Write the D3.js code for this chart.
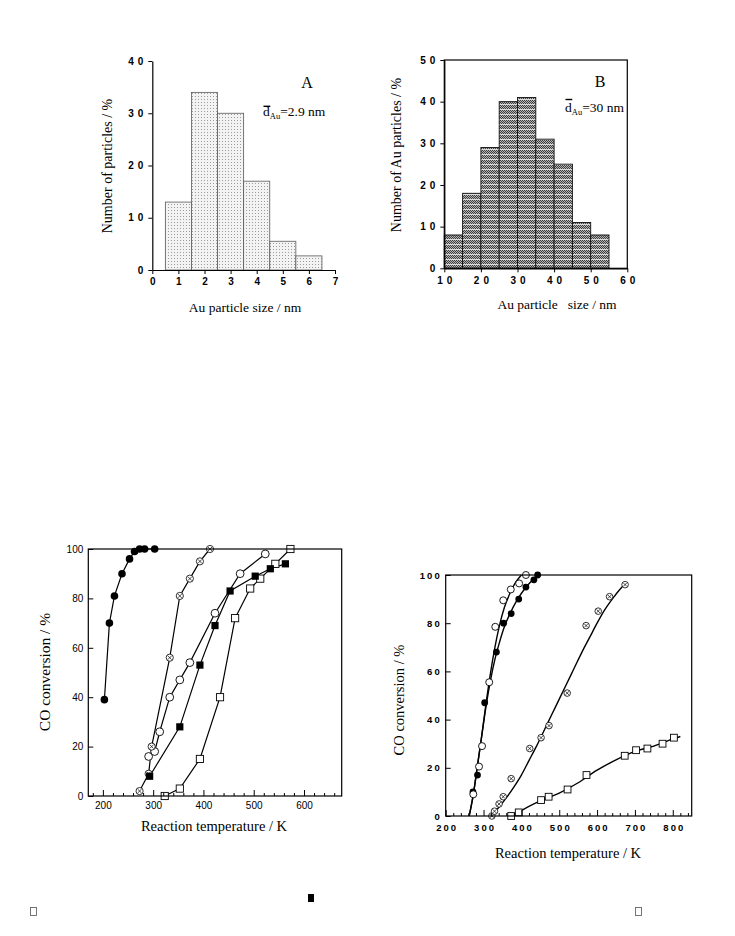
<!DOCTYPE html>
<html><head><meta charset="utf-8">
<script src="https://cdn.jsdelivr.net/npm/d3@7"></script>
<style>body{margin:0;background:#fff}svg{display:block}</style>
</head><body>
<svg id="c" width="735" height="936"></svg>
<script>
// ---------------- DATA ----------------
const histABins = [0.5,1.5,2.5,3.5,4.5,5.5];
const histAValues = [13,34,30,17,5.5,2.7];
const histAXTicks = [0,1,2,3,4,5,6,7];
const histAYTicks = [0,10,20,30,40];

const histBBins = [10,15,20,25,30,35,40,45,50];
const histBValues = [8,18,29,40,41,31,25,11,8];
const histBXTicks = [10,20,30,40,50,60];
const histBYTicks = [0,10,20,30,40,50];

// Chart C (bottom left): [temperature K, conversion %]
const cFilledCircle = [[203,39],[213,70],[223,81],[238,90],[253,96],[263,99],[273,100],[283,100],[303,100]];
const cCrossCircle  = [[273,2],[291,9],[297,20],[333,56],[353,81],[373,88],[393,95],[413,100]];
const cOpenCircle   = [[291,16],[303,18],[313,26],[333,40],[353,47],[373,54],[423,74],[473,90],[523,98]];
const cFilledSquare = [[293,8],[353,28],[393,53],[423,69],[453,83],[503,89],[533,92],[563,94]];
const cOpenSquare   = [[323,0],[353,3],[393,15],[433,40],[463,72],[493,84],[513,88],[543,94],[573,100]];
const cXTicks = [200,300,400,500,600];
const cYTicks = [0,20,40,60,80,100];

// Chart D (bottom right)
const dOpenCircle   = [[273,9],[288,20.5],[296,29],[315,55.5],[331,78.5],[352,89.5],[372,94],[394,96.5],[412,100]];
const dFilledCircle = [[272,10],[284,17],[303,47],[334,68],[353,80],[373,84],[393,90],[412,95],[433,98],[443,100]];
const dCrossCircle  = [[322,0],[329,2],[341,5],[352,8],[373,15.5],[422,28],[452,32.5],[473,37.5],[521,51],[571,79],[603,85],[633,91],[674,96]];
const dOpenSquare   = [[373,0],[393,1.5],[452,6.6],[472,8],[522,11],[572,17],[673,25],[703,27.3],[733,28],[773,30],[803,32.5]];
// fitted curves
const dFitOpen   = [[262,0],[273,9],[284,21],[295,33],[306,46],[318,59],[330,70],[342,79],[355,86.5],[370,92.5],[385,97],[400,100]];
const dFitFilled = [[262,0],[273,9],[284,21],[295,33],[306,45],[318,56],[330,65],[342,72],[355,78.5],[370,84],[390,90],[410,94.5],[430,98],[443,100]];
const dFitCross  = [[318,0],[340,3.5],[360,7.5],[380,12],[400,17],[420,23],[440,29],[460,35.5],[480,42],[500,48.5],[520,55],[540,61.5],[560,68],[580,74],[600,80],[620,85.5],[640,90],[660,94],[678,97]];
const dFitSquare = [[380,0],[400,2.2],[450,6.3],[500,9.5],[550,13.8],[600,19],[650,23.3],[700,26.8],[750,29],[800,32],[820,33]];
const dXTicks = [200,300,400,500,600,700,800];
const dYTicks = [0,20,40,60,80,100];

// ---------------- DRAW ----------------
const svg = d3.select('#c');
const defs = svg.append('defs');
const SERIF = 'Liberation Serif, Times New Roman, serif';
const SANS = 'Liberation Sans, Arial, Helvetica, sans-serif';

// pattern A: light dots
const pA = defs.append('pattern').attr('id','patA').attr('width',3).attr('height',3).attr('patternUnits','userSpaceOnUse');
pA.append('rect').attr('width',3).attr('height',3).attr('fill','#f3f3f3');
pA.append('rect').attr('width',1).attr('height',1).attr('fill','#9c9c9c').attr('shape-rendering','crispEdges');
// pattern B: dark checker with light stripes
const pB = defs.append('pattern').attr('id','patB').attr('width',4).attr('height',5).attr('patternUnits','userSpaceOnUse');
pB.append('rect').attr('width',4).attr('height',5).attr('fill','#b5b5b5');
[[0,0],[2,0],[1,1],[3,1],[0,2],[2,2],[1,3],[3,3]].forEach(([a,b])=>pB.append('rect').attr('x',a).attr('y',b).attr('width',1).attr('height',1).attr('fill','#3c3c3c').attr('shape-rendering','crispEdges'));
pB.append('rect').attr('x',0).attr('y',4).attr('width',4).attr('height',1).attr('fill','#dcdcdc').attr('shape-rendering','crispEdges');

function styleAxis(sel, fs, weight, ls, family){
  sel.attr('font-family',null).attr('font-size',null);
  sel.selectAll('text').attr('font-family',family).attr('font-size',fs).attr('font-weight',weight)
     .style('letter-spacing',ls+'px').attr('fill','#000');
  sel.selectAll('.tick line').attr('stroke','#000').attr('stroke-width',1);
  sel.select('.domain').attr('stroke','#000').attr('stroke-width',1.2);
}

// ---- Histogram A ----
{
  const x = d3.scaleLinear().domain([0,7]).range([152.3,335]);
  const y = d3.scaleLinear().domain([0,40]).range([270,61]);
  const g = svg.append('g');
  g.selectAll('rect.bar').data(histABins.map((b,i)=>({x0:b,x1:b+1,v:histAValues[i]}))).join('rect')
    .attr('x',d=>x(d.x0)).attr('y',d=>y(d.v)).attr('width',d=>x(d.x1)-x(d.x0)).attr('height',d=>y(0)-y(d.v))
    .attr('fill','url(#patA)').attr('stroke','#5a5a5a').attr('stroke-width',0.8);
  const ax = g.append('g').attr('transform','translate(0,270)')
    .call(d3.axisBottom(x).tickValues(histAXTicks).tickSize(4).tickPadding(4).tickSizeOuter(0).tickFormat(d3.format('d')));
  styleAxis(ax,10,'bold',0,SANS);
  const ay = g.append('g').attr('transform','translate(152.3,0)')
    .call(d3.axisLeft(y).tickValues(histAYTicks).tickSize(4).tickPadding(1).tickSizeOuter(0).tickFormat(d3.format('d')));
  styleAxis(ay,10,'bold',4,SANS);
  g.append('text').attr('x',245).attr('y',312).attr('text-anchor','middle').attr('font-family',SERIF).attr('font-size',13.5).text('Au particle size / nm');
  g.append('text').attr('transform','translate(112,166) rotate(-90)').attr('text-anchor','middle').attr('font-family',SERIF).attr('font-size',14).text('Number of particles / %');
  g.append('text').attr('x',307).attr('y',88).attr('text-anchor','middle').attr('font-family',SERIF).attr('font-size',16).text('A');
  const t = g.append('text').attr('x',263).attr('y',116).attr('font-family',SERIF).attr('font-size',13.5);
  t.append('tspan').text('d');
  t.append('tspan').attr('font-size',8.5).attr('dy',3).text('Au');
  t.append('tspan').attr('dy',-3).text('=2.9 nm');
  g.append('line').attr('x1',263.5).attr('x2',270.3).attr('y1',106.3).attr('y2',106.3).attr('stroke','#000').attr('stroke-width',1.4);
}

// ---- Histogram B ----
{
  const x = d3.scaleLinear().domain([10,60]).range([444.3,627.3]);
  const y = d3.scaleLinear().domain([0,50]).range([268.3,60]);
  const g = svg.append('g');
  g.selectAll('rect.bar').data(histBBins.map((b,i)=>({x0:b,x1:b+5,v:histBValues[i]}))).join('rect')
    .attr('x',d=>x(d.x0)).attr('y',d=>y(d.v)).attr('width',d=>x(d.x1)-x(d.x0)).attr('height',d=>y(0)-y(d.v))
    .attr('fill','url(#patB)').attr('stroke','#111').attr('stroke-width',0.9);
  g.append('rect').attr('x',444.3).attr('y',60).attr('width',183).attr('height',208.3).attr('fill','none').attr('stroke','#000').attr('stroke-width',1.2);
  const ax = g.append('g').attr('transform','translate(0,268.3)')
    .call(d3.axisBottom(x).tickValues(histBXTicks).tickSize(4).tickPadding(5).tickSizeOuter(0).tickFormat(d3.format('d')));
  styleAxis(ax,10,'bold',4,SANS);
  ax.selectAll('text').attr('dx',2);
  const ay = g.append('g').attr('transform','translate(444.3,0)')
    .call(d3.axisLeft(y).tickValues(histBYTicks).tickSize(4).tickPadding(1).tickSizeOuter(0).tickFormat(d3.format('d')));
  styleAxis(ay,10,'bold',4,SANS);
  g.append('text').attr('x',557).attr('y',309).attr('text-anchor','middle').attr('font-family',SERIF).attr('font-size',13.5).style('white-space','pre').text('Au particle   size / nm');
  g.append('text').attr('transform','translate(401,155) rotate(-90)').attr('text-anchor','middle').attr('font-family',SERIF).attr('font-size',14).text('Number of Au particles / %');
  g.append('text').attr('x',600).attr('y',87).attr('text-anchor','middle').attr('font-family',SERIF).attr('font-size',16).text('B');
  const t = g.append('text').attr('x',565).attr('y',112).attr('font-family',SERIF).attr('font-size',13.5);
  t.append('tspan').text('d');
  t.append('tspan').attr('font-size',8.5).attr('dy',3).text('Au');
  t.append('tspan').attr('dy',-3).text('=30 nm');
  g.append('line').attr('x1',565.5).attr('x2',572.3).attr('y1',99.5).attr('y2',99.5).attr('stroke','#000').attr('stroke-width',1.4);
}

// marker helper
function markers(g, data, type, x, y, s){
  const sel = g.append('g');
  data.forEach(([t,v])=>{
    const cx = x(t), cy = y(v);
    if(type==='fc') sel.append('circle').attr('cx',cx).attr('cy',cy).attr('r',s).attr('fill','#000');
    else if(type==='oc') sel.append('circle').attr('cx',cx).attr('cy',cy).attr('r',s).attr('fill','#fff').attr('stroke','#000').attr('stroke-width',0.9);
    else if(type==='xc'){
      sel.append('circle').attr('cx',cx).attr('cy',cy).attr('r',s).attr('fill','#fff').attr('stroke','#000').attr('stroke-width',0.8);
      const k = s*0.55;
      sel.append('path').attr('d',`M${cx-k},${cy-k}L${cx+k},${cy+k}M${cx-k},${cy+k}L${cx+k},${cy-k}`).attr('stroke','#000').attr('stroke-width',0.7);
    }
    else if(type==='fs') sel.append('rect').attr('x',cx-s).attr('y',cy-s).attr('width',2*s).attr('height',2*s).attr('fill','#000');
    else if(type==='os') sel.append('rect').attr('x',cx-s).attr('y',cy-s).attr('width',2*s).attr('height',2*s).attr('fill','#fff').attr('stroke','#000').attr('stroke-width',0.9);
  });
}

// ---- Chart C ----
{
  const x = d3.scaleLinear().domain([171,675]).range([88.3,341.7]);
  const y = d3.scaleLinear().domain([0,100]).range([796,549]);
  const g = svg.append('g');
  const line = d3.line().x(d=>x(d[0])).y(d=>y(d[1]));
  [cFilledCircle,cCrossCircle,cOpenCircle,cFilledSquare,cOpenSquare].forEach(s=>
    g.append('path').attr('d',line(s)).attr('fill','none').attr('stroke','#000').attr('stroke-width',1.2));
  markers(g,cOpenSquare,'os',x,y,3.6);
  markers(g,cOpenCircle,'oc',x,y,3.9);
  markers(g,cCrossCircle,'xc',x,y,3.6);
  markers(g,cFilledSquare,'fs',x,y,3.6);
  markers(g,cFilledCircle,'fc',x,y,3.8);
  g.append('rect').attr('x',88.3).attr('y',549).attr('width',253.4).attr('height',247).attr('fill','none').attr('stroke','#000').attr('stroke-width',1.2);
  const minor = d3.range(180,675,20).filter(v=>v%100!==0);
  const axm = g.append('g').attr('transform','translate(0,796)').call(d3.axisBottom(x).tickValues(minor).tickSize(-3).tickFormat(''));
  axm.select('.domain').remove(); axm.selectAll('line').attr('stroke','#000');
  const ax = g.append('g').attr('transform','translate(0,796)').call(d3.axisBottom(x).tickValues(cXTicks).tickSize(-6).tickPadding(6).tickFormat(d3.format('d')));
  ax.select('.domain').remove(); styleAxis(ax,10,'normal',0,SANS);
  const ay = g.append('g').attr('transform','translate(88.3,0)').call(d3.axisLeft(y).tickValues(cYTicks).tickSize(-5).tickPadding(5).tickFormat(d3.format('d')));
  ay.select('.domain').remove(); styleAxis(ay,10,'normal',0,SANS);
  g.append('text').attr('x',214).attr('y',831).attr('text-anchor','middle').attr('font-family',SERIF).attr('font-size',14.5).text('Reaction temperature / K');
  g.append('text').attr('transform','translate(50,672) rotate(-90)').attr('text-anchor','middle').attr('font-family',SERIF).attr('font-size',15.5).text('CO conversion / %');
}

// ---- Chart D ----
{
  const x = d3.scaleLinear().domain([200,850]).range([445.7,691.7]);
  const y = d3.scaleLinear().domain([0,100]).range([816,575]);
  const g = svg.append('g');
  const curve = d3.line().x(d=>x(d[0])).y(d=>y(d[1])).curve(d3.curveMonotoneX);
  [dFitOpen,dFitFilled,dFitCross,dFitSquare].forEach(s=>
    g.append('path').attr('d',curve(s)).attr('fill','none').attr('stroke','#000').attr('stroke-width',1.4));
  markers(g,dOpenSquare,'os',x,y,3.4);
  markers(g,dCrossCircle,'xc',x,y,3.3);
  markers(g,dFilledCircle,'fc',x,y,3.4);
  markers(g,dOpenCircle,'oc',x,y,3.5);
  g.append('rect').attr('x',445.7).attr('y',575).attr('width',246).attr('height',241).attr('fill','none').attr('stroke','#000').attr('stroke-width',1.2);
  const minor = d3.range(220,850,20).filter(v=>v%100!==0);
  const axm = g.append('g').attr('transform','translate(0,816)').call(d3.axisBottom(x).tickValues(minor).tickSize(-3).tickFormat(''));
  axm.select('.domain').remove(); axm.selectAll('line').attr('stroke','#000');
  const ax = g.append('g').attr('transform','translate(0,816)').call(d3.axisBottom(x).tickValues(dXTicks).tickSize(-6).tickPadding(8).tickFormat(d3.format('d')));
  ax.select('.domain').remove(); styleAxis(ax,9.5,'bold',2,SANS);
  ax.selectAll('text').attr('dx',1);
  const ay = g.append('g').attr('transform','translate(445.7,0)').call(d3.axisLeft(y).tickValues(dYTicks).tickSize(-5).tickPadding(4).tickFormat(d3.format('d')));
  ay.select('.domain').remove(); styleAxis(ay,9.5,'bold',2,SANS);
  g.append('text').attr('x',568).attr('y',858).attr('text-anchor','middle').attr('font-family',SERIF).attr('font-size',14.5).text('Reaction temperature / K');
  g.append('text').attr('transform','translate(404,700) rotate(-90)').attr('text-anchor','middle').attr('font-family',SERIF).attr('font-size',14.5).text('CO conversion / %');
}

// stray glyph boxes at the bottom
svg.append('rect').attr('x',30.5).attr('y',907.5).attr('width',6).attr('height',8).attr('fill','#fff').attr('stroke','#666').attr('stroke-width',0.9);
svg.append('rect').attr('x',308).attr('y',894).attr('width',6).attr('height',8).attr('fill','#000');
svg.append('rect').attr('x',635.5).attr('y',907.5).attr('width',6).attr('height',8).attr('fill','#fff').attr('stroke','#666').attr('stroke-width',0.9);
</script>
</body></html>
